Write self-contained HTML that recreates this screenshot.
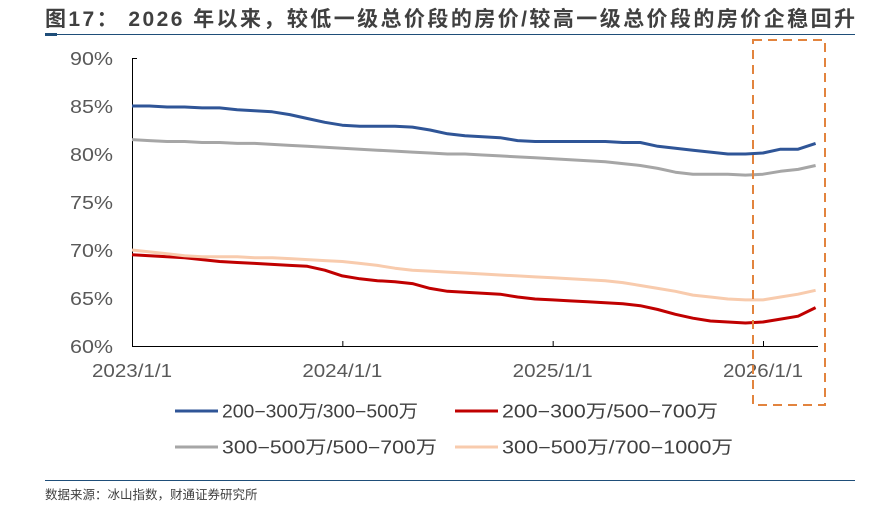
<!DOCTYPE html>
<html><head><meta charset="utf-8"><style>
body{margin:0;background:#fff;width:888px;height:511px;overflow:hidden;font-family:"Liberation Sans","Noto Sans CJK SC",sans-serif}
svg text{font-family:"Liberation Sans","Noto Sans CJK SC",sans-serif}
</style></head><body>
<svg id="c" width="888" height="511">
<text x="45" y="26" font-size="21" font-weight="bold" fill="#404040" textLength="810" lengthAdjust="spacing">图17：  2026 年以来，较低一级总价段的房价/较高一级总价段的房价企稳回升</text>
<line x1="45" y1="34.5" x2="855" y2="34.5" stroke="#1f4e79" stroke-width="1"/>
<rect x="45" y="33" width="12" height="3" fill="#1f4e79"/>
<g id="axes"></g>
<g id="series"></g>
<rect x="753" y="40" width="72" height="365" fill="none" stroke="#e2843e" stroke-width="2" stroke-dasharray="9,6"/>
<g id="legend"></g>
<line x1="45" y1="480.5" x2="855" y2="480.5" stroke="#1f4e79" stroke-width="1"/>
<text x="45" y="499" font-size="12.5" fill="#404040">数据来源：冰山指数，财通证券研究所</text>
</svg>
<script>
const yTicks=[60,65,70,75,80,85,90];
const xTickLabels=["2023/1/1","2024/1/1","2025/1/1","2026/1/1"];
const seriesNames=["200−300万/300−500万","200−300万/500−700万","300−500万/500−700万","300−500万/700−1000万"];
const blue=[85.0,85.0,84.9,84.9,84.8,84.8,84.6,84.5,84.4,84.1,83.7,83.3,83.0,82.9,82.9,82.9,82.8,82.5,82.1,81.9,81.8,81.7,81.4,81.3,81.3,81.3,81.3,81.3,81.2,81.2,80.8,80.6,80.4,80.2,80.0,80.0,80.1,80.5,80.5,81.1];
const red=[69.5,69.4,69.3,69.2,69.0,68.8,68.7,68.6,68.5,68.4,68.3,67.9,67.3,67.0,66.8,66.7,66.5,66.0,65.7,65.6,65.5,65.4,65.1,64.9,64.8,64.7,64.6,64.5,64.4,64.2,63.8,63.3,62.9,62.6,62.5,62.4,62.5,62.8,63.1,64.0];
const gray=[81.5,81.4,81.3,81.3,81.2,81.2,81.1,81.1,81.0,80.9,80.8,80.7,80.6,80.5,80.4,80.3,80.2,80.1,80.0,80.0,79.9,79.8,79.7,79.6,79.5,79.4,79.3,79.2,79.0,78.8,78.5,78.1,77.9,77.9,77.9,77.8,77.9,78.2,78.4,78.8];
const pink=[70.0,69.8,69.6,69.4,69.3,69.3,69.3,69.2,69.2,69.1,69.0,68.9,68.8,68.6,68.4,68.1,67.9,67.8,67.7,67.6,67.5,67.4,67.3,67.2,67.1,67.0,66.9,66.8,66.6,66.3,66.0,65.7,65.3,65.1,64.9,64.8,64.8,65.1,65.4,65.8];
const colors=["#2f5597","#c00000","#a6a6a6","#f8cbad"];
const NS="http://www.w3.org/2000/svg";
const y=v=>346-(v-60)*9.6;
const xm=i=>132+i*(631/36);
const xy=k=>132+k*(631/3);
function mk(tag,attrs,parent){const e=document.createElementNS(NS,tag);for(const k in attrs)e.setAttribute(k,attrs[k]);parent.appendChild(e);return e;}
const axes=document.getElementById('axes');
yTicks.forEach(v=>{
 const t=mk('text',{x:113,y:y(v)+7,'font-size':18.5,fill:'#595959','text-anchor':'end',textLength:43,lengthAdjust:'spacingAndGlyphs'},axes);
 t.textContent=v+'%';
 
 
});
const ya=mk('line',{x1:132.5,y1:58,x2:132.5,y2:346,stroke:'#000','stroke-width':1},axes);


const yt=mk('line',{x1:132,y1:58.5,x2:137,y2:58.5,stroke:'#000','stroke-width':1},axes);


const xa=mk('line',{x1:132,y1:346.5,x2:818,y2:346.5,stroke:'#000','stroke-width':1},axes);


xTickLabels.forEach((l,k)=>{
 const tk=mk('line',{x1:xy(k)+0.5,y1:341,x2:xy(k)+0.5,y2:346,stroke:'#000'},axes);
 
 
 const t=mk('text',{x:xy(k),y:377,'font-size':18.5,fill:'#595959','text-anchor':'middle',textLength:80,lengthAdjust:'spacingAndGlyphs'},axes);
 t.textContent=l;
 
 
});
const sg=document.getElementById('series');
[blue,red,gray,pink].forEach((d,s)=>{
 const p=mk('polyline',{points:d.map((v,i)=>xm(i).toFixed(1)+','+y(v).toFixed(1)).join(' '),fill:'none',stroke:colors[s],'stroke-width':3,'stroke-linejoin':'round'},sg);
 
 
});
const legendLens=[196,216,215,231];
const lg=document.getElementById('legend');
seriesNames.forEach((n,s)=>{
 const lx=s%2?455:175, ly=s<2?411:447;
 const g=mk('g',{},lg);
 
 
 mk('line',{x1:lx,y1:ly,x2:lx+43,y2:ly,stroke:colors[s],'stroke-width':3},g);
 const t=mk('text',{x:lx+47,y:ly+6.5,'font-size':18,fill:'#404040',textLength:legendLens[s],lengthAdjust:'spacingAndGlyphs'},g);
 t.textContent=n;
});
</script>
</body></html>
